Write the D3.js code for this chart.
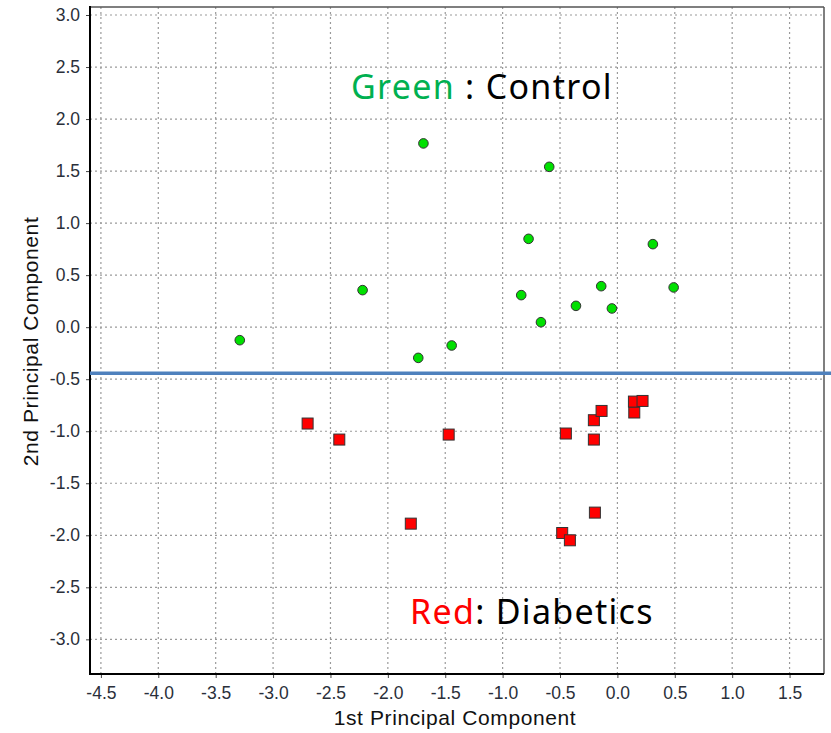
<!DOCTYPE html>
<html><head><meta charset="utf-8">
<script src="https://cdn.jsdelivr.net/npm/d3@7"></script>
<style>body{margin:0;background:#fff}svg{display:block}</style>
</head><body>
<script>
const controlX = [-3.29, -2.22, -1.69, -1.735, -1.444, -0.594, -0.774, -0.838, -0.666, -0.361, -0.141, -0.048, 0.309, 0.49];
const controlY = [-0.125, 0.356, 1.766, -0.295, -0.176, 1.541, 0.849, 0.308, 0.048, 0.205, 0.394, 0.18, 0.798, 0.382];
const diabeticX = [-2.699, -2.423, -1.47, -1.80, -0.449, -0.205, -0.205, -0.138, 0.147, 0.144, 0.219, -0.196, -0.481, -0.414];
const diabeticY = [-0.926, -1.08, -1.032, -1.888, -1.022, -1.08, -0.894, -0.805, -0.82, -0.715, -0.709, -1.782, -1.978, -2.048];
const xTicks = [-4.5, -4.0, -3.5, -3.0, -2.5, -2.0, -1.5, -1.0, -0.5, 0.0, 0.5, 1.0, 1.5];
const yTicks = [3.0, 2.5, 2.0, 1.5, 1.0, 0.5, 0.0, -0.5, -1.0, -1.5, -2.0, -2.5, -3.0];
const separatorY = -0.442;
const xTitle = "1st Principal Component";
const yTitle = "2nd Principal Component";

const W = 831, H = 733;
const L = 90, R = 824, T = 7, B = 674;
const svg = d3.select("body").append("svg").attr("width", W).attr("height", H);
const x = d3.scaleLinear().domain([-4.595, 1.80]).range([L, R]);
const y = d3.scaleLinear().domain([3.077, -3.333]).range([T, B]);
const fmt = v => d3.format(".1f")(v).replace("\u2212", "-");

// grid
const grid = svg.append("g").attr("stroke", "#9a9a9a").attr("stroke-width", 1.2).attr("stroke-dasharray", "2,3");
grid.selectAll(".gx").data(xTicks).join("line").attr("x1", d => x(d)).attr("x2", d => x(d)).attr("y1", T).attr("y2", B);
grid.selectAll(".gy").data(yTicks).join("line").attr("y1", d => y(d)).attr("y2", d => y(d)).attr("x1", L).attr("x2", R);

// axes
const font = "'Liberation Sans', Arial, sans-serif";
const xAxis = svg.append("g").attr("transform", `translate(0,${B})`)
  .call(d3.axisBottom(x).tickValues(xTicks).tickFormat(fmt).tickSize(4).tickSizeOuter(0));
const yAxis = svg.append("g").attr("transform", `translate(${L},0)`)
  .call(d3.axisLeft(y).tickValues(yTicks).tickFormat(fmt).tickSize(4).tickSizeOuter(0));
[xAxis, yAxis].forEach(a => {
  a.select(".domain").remove();
  a.selectAll(".tick line").attr("stroke", "#444");
  a.selectAll(".tick text").attr("font-family", font).attr("font-size", 17.5).attr("fill", "#2a2f3a");
});
xAxis.selectAll(".tick text").attr("dy", "1.05em");
yAxis.selectAll(".tick text").attr("x", -10);

// frame
svg.append("line").attr("x1", L).attr("x2", R).attr("y1", T).attr("y2", T).attr("stroke", "#555").attr("stroke-width", 1.5);
svg.append("line").attr("x1", R).attr("x2", R).attr("y1", T).attr("y2", B).attr("stroke", "#555").attr("stroke-width", 1.5);
svg.append("line").attr("x1", L).attr("x2", L).attr("y1", T - 1).attr("y2", B + 1).attr("stroke", "#000").attr("stroke-width", 2);
svg.append("line").attr("x1", L - 1).attr("x2", R).attr("y1", B).attr("y2", B).attr("stroke", "#000").attr("stroke-width", 2);

// separator
svg.append("line").attr("x1", L).attr("x2", W).attr("y1", y(separatorY)).attr("y2", y(separatorY))
  .attr("stroke", "#4f81bd").attr("stroke-width", 3.5);

// points
const control = controlX.map((v, i) => ({x: v, y: controlY[i]}));
const diab = diabeticX.map((v, i) => ({x: v, y: diabeticY[i]}));
svg.append("g").selectAll("circle").data(control).join("circle")
  .attr("cx", d => x(d.x)).attr("cy", d => y(d.y)).attr("r", 4.8)
  .attr("fill", "#00e000").attr("stroke", "#333").attr("stroke-width", 1);
const s = 11;
svg.append("g").selectAll("rect").data(diab).join("rect")
  .attr("x", d => x(d.x) - s / 2).attr("y", d => y(d.y) - s / 2).attr("width", s).attr("height", s)
  .attr("fill", "#ff0000").attr("stroke", "#333").attr("stroke-width", 1);

// axis titles
svg.append("text").attr("x", 455).attr("y", 725).attr("text-anchor", "middle")
  .attr("font-family", font).attr("font-size", 21).attr("letter-spacing", 0.6).attr("fill", "#111").text(xTitle);
svg.append("text").attr("transform", `translate(38,341.5) rotate(-90)`).attr("text-anchor", "middle")
  .attr("font-family", font).attr("font-size", 21).attr("letter-spacing", 0.6).attr("fill", "#111").text(yTitle);

// annotations
const afont = "'Noto Sans', 'Open Sans', sans-serif";
const t1 = svg.append("text").attr("x", 351).attr("y", 99).attr("font-family", afont).attr("font-size", 34).attr("letter-spacing", 1.3);
t1.append("tspan").attr("fill", "#00b050").text("Green");
t1.append("tspan").attr("fill", "#000").text(" : Control");
const t2 = svg.append("text").attr("x", 410).attr("y", 624).attr("font-family", afont).attr("font-size", 34).attr("letter-spacing", 1.3);
t2.append("tspan").attr("fill", "#ff0000").text("Red");
t2.append("tspan").attr("fill", "#000").text(": Diabetics");
</script>
</body></html>
